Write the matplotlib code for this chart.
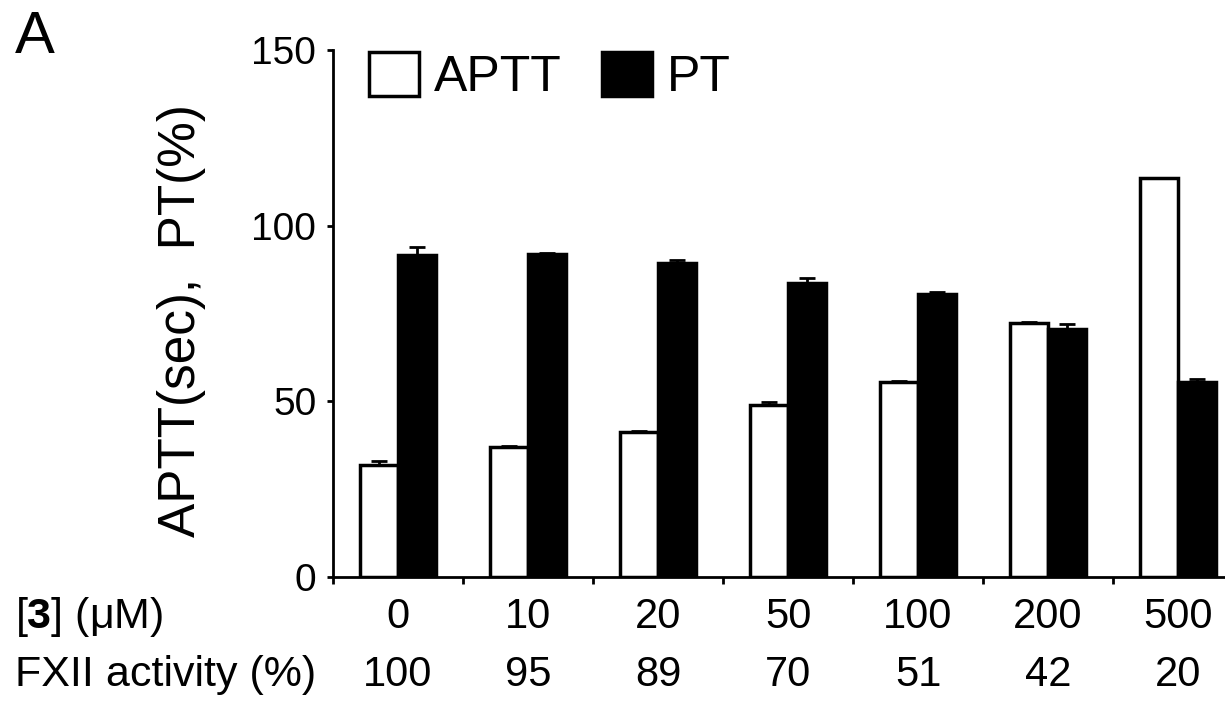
import matplotlib
matplotlib.use("Agg")
import matplotlib.pyplot as plt
import matplotlib.transforms as mtransforms
import numpy as np

# data
conc_labels = ["0", "10", "20", "50", "100", "200", "500"]
fxii_labels = ["100", "95", "89", "70", "51", "42", "20"]
aptt = [31.9, 37.1, 41.4, 49.0, 55.4, 72.2, 113.5]
aptt_err = [1.1, 0.2, 0.2, 0.9, 0.3, 0.5, 0.2]
pt = [91.7, 91.9, 89.5, 83.8, 80.6, 70.5, 55.6]
pt_err = [2.3, 0.4, 0.7, 1.2, 0.4, 1.4, 0.7]

plt.rcParams["font.family"] = ["Liberation Sans", "DejaVu Sans"]
plt.rcParams["mathtext.fontset"] = "custom"
plt.rcParams["mathtext.bf"] = "Liberation Sans:bold"
plt.rcParams["mathtext.rm"] = "Liberation Sans"

W, H = 1225, 710
fig = plt.figure(figsize=(W / 100, H / 100), dpi=100)
ax = fig.add_axes([333 / W, 1 - 577 / H, 910 / W, 527 / H])

x = np.arange(len(conc_labels))
w = 0.29
ax.bar(x - w / 2, aptt, w, color="white", edgecolor="black", linewidth=2.5,
       yerr=[np.zeros(len(aptt)), aptt_err], capsize=6,
       error_kw=dict(elinewidth=2, capthick=2, ecolor="black"), label="APTT")
ax.bar(x + w / 2, pt, w, color="black", edgecolor="black", linewidth=2.5,
       yerr=[np.zeros(len(pt)), pt_err], capsize=6,
       error_kw=dict(elinewidth=2, capthick=2, ecolor="black"), label="PT")

ax.set_xlim(-0.5, 6.5)
ax.set_ylim(0, 150)
ax.set_yticks([0, 50, 100, 150])
ax.set_xticks(np.arange(-0.5, 7, 1.0))
ax.set_xticklabels([])
ax.tick_params(axis="y", direction="out", length=4, width=2, labelsize=28, pad=8)
ax.tick_params(axis="x", direction="out", length=5, width=2)
for s in ["top", "right"]:
    ax.spines[s].set_visible(False)
for s in ["left", "bottom"]:
    ax.spines[s].set_linewidth(2)

# two rows of category labels under the axis
trans = mtransforms.blended_transform_factory(ax.transData, fig.transFigure)
row1, row2 = 1 - 617 / H, 1 - 675 / H
for i in x:
    ax.text(i, row1, conc_labels[i], transform=trans, ha="center", va="center",
            fontsize=30)
    ax.text(i, row2, fxii_labels[i], transform=trans, ha="center", va="center",
            fontsize=30)
fig.text(15 / W, row1, r"[$\mathbf{3}$] (μM)", ha="left", va="center", fontsize=31)
fig.text(15 / W, row2, "FXII activity (%)", ha="left", va="center", fontsize=31)

fig.text(182 / W, 1 - 321 / H, "APTT(sec),  PT(%)", rotation=90,
         ha="center", va="center", fontsize=37)
fig.text(15 / W, 1 - 10 / H, "A", ha="left", va="top", fontsize=43)

ax.legend(loc="upper left", bbox_to_anchor=(16 / 910, 1.035), ncol=2,
          frameon=False, fontsize=36, handlelength=1.0, handleheight=1.0,
          handletextpad=0.3, columnspacing=0.8, borderaxespad=0)

fig.savefig("out.png", dpi=100, facecolor="white")
